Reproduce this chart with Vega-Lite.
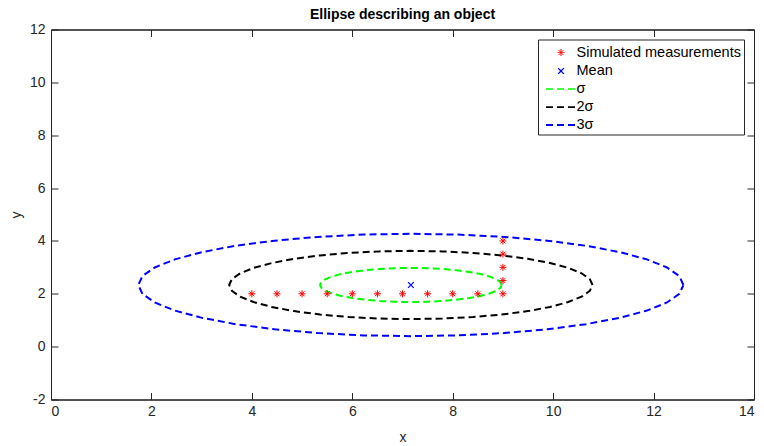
{
  "$schema": "https://vega.github.io/schema/vega-lite/v6.json",
  "width": 703,
  "height": 370,
  "autosize": "none",
  "padding": {"left": 51, "top": 29.5, "right": 10, "bottom": 46.5},
  "background": "white",
  "title": {"text": "Ellipse describing an object", "font": "Liberation Sans", "fontSize": 14, "fontWeight": "bold", "color": "black", "anchor": "middle", "offset": 1},
  "config": {
    "view": {"stroke": "black", "strokeWidth": 1},
    "axis": {"grid": false, "domainColor": "#262626", "tickColor": "#262626", "tickSize": -7, "labelFont": "Liberation Sans", "labelFontSize": 14, "labelColor": "#262626", "titleFont": "Liberation Sans", "titleFontSize": 14, "titleFontWeight": "normal", "titleColor": "#262626", "labelExpr": "replace(datum.label, '−', '-')"}
  },
  "data": {"values": [
    {"s": "Simulated measurements", "x": 4, "y": 2},
    {"s": "Simulated measurements", "x": 4.5, "y": 2},
    {"s": "Simulated measurements", "x": 5, "y": 2},
    {"s": "Simulated measurements", "x": 5.5, "y": 2},
    {"s": "Simulated measurements", "x": 6, "y": 2},
    {"s": "Simulated measurements", "x": 6.5, "y": 2},
    {"s": "Simulated measurements", "x": 7, "y": 2},
    {"s": "Simulated measurements", "x": 7.5, "y": 2},
    {"s": "Simulated measurements", "x": 8, "y": 2},
    {"s": "Simulated measurements", "x": 8.5, "y": 2},
    {"s": "Simulated measurements", "x": 9, "y": 2},
    {"s": "Simulated measurements", "x": 9, "y": 2.5},
    {"s": "Simulated measurements", "x": 9, "y": 3},
    {"s": "Simulated measurements", "x": 9, "y": 3.5},
    {"s": "Simulated measurements", "x": 9, "y": 4},
    {"s": "Mean", "x": 7.1667, "y": 2.3333},
    {"s": "σ", "t": 0, "x": 8.9761, "y": 2.3333},
    {"s": "σ", "t": 1, "x": 8.9486, "y": 2.4454},
    {"s": "σ", "t": 2, "x": 8.8670, "y": 2.5541},
    {"s": "σ", "t": 3, "x": 8.7337, "y": 2.6560},
    {"s": "σ", "t": 4, "x": 8.5528, "y": 2.7482},
    {"s": "σ", "t": 5, "x": 8.3297, "y": 2.8278},
    {"s": "σ", "t": 6, "x": 8.0714, "y": 2.8923},
    {"s": "σ", "t": 7, "x": 7.7855, "y": 2.9399},
    {"s": "σ", "t": 8, "x": 7.4809, "y": 2.9690},
    {"s": "σ", "t": 9, "x": 7.1667, "y": 2.9788},
    {"s": "σ", "t": 10, "x": 6.8525, "y": 2.9690},
    {"s": "σ", "t": 11, "x": 6.5479, "y": 2.9399},
    {"s": "σ", "t": 12, "x": 6.2620, "y": 2.8923},
    {"s": "σ", "t": 13, "x": 6.0037, "y": 2.8278},
    {"s": "σ", "t": 14, "x": 5.7806, "y": 2.7482},
    {"s": "σ", "t": 15, "x": 5.5997, "y": 2.6560},
    {"s": "σ", "t": 16, "x": 5.4664, "y": 2.5541},
    {"s": "σ", "t": 17, "x": 5.3848, "y": 2.4454},
    {"s": "σ", "t": 18, "x": 5.3573, "y": 2.3333},
    {"s": "σ", "t": 19, "x": 5.3848, "y": 2.2212},
    {"s": "σ", "t": 20, "x": 5.4664, "y": 2.1125},
    {"s": "σ", "t": 21, "x": 5.5997, "y": 2.0106},
    {"s": "σ", "t": 22, "x": 5.7806, "y": 1.9184},
    {"s": "σ", "t": 23, "x": 6.0037, "y": 1.8388},
    {"s": "σ", "t": 24, "x": 6.2620, "y": 1.7743},
    {"s": "σ", "t": 25, "x": 6.5479, "y": 1.7267},
    {"s": "σ", "t": 26, "x": 6.8525, "y": 1.6976},
    {"s": "σ", "t": 27, "x": 7.1667, "y": 1.6878},
    {"s": "σ", "t": 28, "x": 7.4809, "y": 1.6976},
    {"s": "σ", "t": 29, "x": 7.7855, "y": 1.7267},
    {"s": "σ", "t": 30, "x": 8.0714, "y": 1.7743},
    {"s": "σ", "t": 31, "x": 8.3297, "y": 1.8388},
    {"s": "σ", "t": 32, "x": 8.5528, "y": 1.9184},
    {"s": "σ", "t": 33, "x": 8.7337, "y": 2.0106},
    {"s": "σ", "t": 34, "x": 8.8670, "y": 2.1125},
    {"s": "σ", "t": 35, "x": 8.9486, "y": 2.2212},
    {"s": "σ", "t": 36, "x": 8.9761, "y": 2.3333},
    {"s": "2σ", "t": 0, "x": 10.7854, "y": 2.3333},
    {"s": "2σ", "t": 1, "x": 10.7305, "y": 2.5575},
    {"s": "2σ", "t": 2, "x": 10.5672, "y": 2.7748},
    {"s": "2σ", "t": 3, "x": 10.3006, "y": 2.9788},
    {"s": "2σ", "t": 4, "x": 9.9388, "y": 3.1631},
    {"s": "2σ", "t": 5, "x": 9.4928, "y": 3.3223},
    {"s": "2σ", "t": 6, "x": 8.9761, "y": 3.4513},
    {"s": "2σ", "t": 7, "x": 8.4044, "y": 3.5464},
    {"s": "2σ", "t": 8, "x": 7.7951, "y": 3.6047},
    {"s": "2σ", "t": 9, "x": 7.1667, "y": 3.6243},
    {"s": "2σ", "t": 10, "x": 6.5383, "y": 3.6047},
    {"s": "2σ", "t": 11, "x": 5.9290, "y": 3.5464},
    {"s": "2σ", "t": 12, "x": 5.3573, "y": 3.4513},
    {"s": "2σ", "t": 13, "x": 4.8406, "y": 3.3223},
    {"s": "2σ", "t": 14, "x": 4.3946, "y": 3.1631},
    {"s": "2σ", "t": 15, "x": 4.0328, "y": 2.9788},
    {"s": "2σ", "t": 16, "x": 3.7662, "y": 2.7748},
    {"s": "2σ", "t": 17, "x": 3.6029, "y": 2.5575},
    {"s": "2σ", "t": 18, "x": 3.5480, "y": 2.3333},
    {"s": "2σ", "t": 19, "x": 3.6029, "y": 2.1091},
    {"s": "2σ", "t": 20, "x": 3.7662, "y": 1.8918},
    {"s": "2σ", "t": 21, "x": 4.0328, "y": 1.6878},
    {"s": "2σ", "t": 22, "x": 4.3946, "y": 1.5035},
    {"s": "2σ", "t": 23, "x": 4.8406, "y": 1.3443},
    {"s": "2σ", "t": 24, "x": 5.3573, "y": 1.2153},
    {"s": "2σ", "t": 25, "x": 5.9290, "y": 1.1202},
    {"s": "2σ", "t": 26, "x": 6.5383, "y": 1.0619},
    {"s": "2σ", "t": 27, "x": 7.1667, "y": 1.0423},
    {"s": "2σ", "t": 28, "x": 7.7951, "y": 1.0619},
    {"s": "2σ", "t": 29, "x": 8.4044, "y": 1.1202},
    {"s": "2σ", "t": 30, "x": 8.9761, "y": 1.2153},
    {"s": "2σ", "t": 31, "x": 9.4928, "y": 1.3443},
    {"s": "2σ", "t": 32, "x": 9.9388, "y": 1.5035},
    {"s": "2σ", "t": 33, "x": 10.3006, "y": 1.6878},
    {"s": "2σ", "t": 34, "x": 10.5672, "y": 1.8918},
    {"s": "2σ", "t": 35, "x": 10.7305, "y": 2.1091},
    {"s": "2σ", "t": 36, "x": 10.7854, "y": 2.3333},
    {"s": "3σ", "t": 0, "x": 12.5948, "y": 2.3333},
    {"s": "3σ", "t": 1, "x": 12.5124, "y": 2.6696},
    {"s": "3σ", "t": 2, "x": 12.2675, "y": 2.9956},
    {"s": "3σ", "t": 3, "x": 11.8676, "y": 3.3015},
    {"s": "3σ", "t": 4, "x": 11.3249, "y": 3.5781},
    {"s": "3σ", "t": 5, "x": 10.6558, "y": 3.8167},
    {"s": "3σ", "t": 6, "x": 9.8808, "y": 4.0103},
    {"s": "3σ", "t": 7, "x": 9.0232, "y": 4.1530},
    {"s": "3σ", "t": 8, "x": 8.1093, "y": 4.2404},
    {"s": "3σ", "t": 9, "x": 7.1667, "y": 4.2698},
    {"s": "3σ", "t": 10, "x": 6.2241, "y": 4.2404},
    {"s": "3σ", "t": 11, "x": 5.3102, "y": 4.1530},
    {"s": "3σ", "t": 12, "x": 4.4526, "y": 4.0103},
    {"s": "3σ", "t": 13, "x": 3.6776, "y": 3.8167},
    {"s": "3σ", "t": 14, "x": 3.0085, "y": 3.5781},
    {"s": "3σ", "t": 15, "x": 2.4658, "y": 3.3015},
    {"s": "3σ", "t": 16, "x": 2.0659, "y": 2.9956},
    {"s": "3σ", "t": 17, "x": 1.8210, "y": 2.6696},
    {"s": "3σ", "t": 18, "x": 1.7386, "y": 2.3333},
    {"s": "3σ", "t": 19, "x": 1.8210, "y": 1.9970},
    {"s": "3σ", "t": 20, "x": 2.0659, "y": 1.6710},
    {"s": "3σ", "t": 21, "x": 2.4658, "y": 1.3651},
    {"s": "3σ", "t": 22, "x": 3.0085, "y": 1.0885},
    {"s": "3σ", "t": 23, "x": 3.6776, "y": 0.8499},
    {"s": "3σ", "t": 24, "x": 4.4526, "y": 0.6563},
    {"s": "3σ", "t": 25, "x": 5.3102, "y": 0.5136},
    {"s": "3σ", "t": 26, "x": 6.2241, "y": 0.4262},
    {"s": "3σ", "t": 27, "x": 7.1667, "y": 0.3968},
    {"s": "3σ", "t": 28, "x": 8.1093, "y": 0.4262},
    {"s": "3σ", "t": 29, "x": 9.0232, "y": 0.5136},
    {"s": "3σ", "t": 30, "x": 9.8808, "y": 0.6563},
    {"s": "3σ", "t": 31, "x": 10.6558, "y": 0.8499},
    {"s": "3σ", "t": 32, "x": 11.3249, "y": 1.0885},
    {"s": "3σ", "t": 33, "x": 11.8676, "y": 1.3651},
    {"s": "3σ", "t": 34, "x": 12.2675, "y": 1.6710},
    {"s": "3σ", "t": 35, "x": 12.5124, "y": 1.9970},
    {"s": "3σ", "t": 36, "x": 12.5948, "y": 2.3333}
  ]},
  "resolve": {"axis": {"x": "independent", "y": "independent"}},
  "layer": [
    {
      "transform": [{"filter": "datum.t != null"}],
      "mark": {"type": "line", "strokeWidth": 2},
      "encoding": {
        "x": {"field": "x", "type": "quantitative", "scale": {"domain": [0, 14], "nice": false, "zero": false}, "axis": {"orient": "bottom", "values": [0, 2, 4, 6, 8, 10, 12, 14], "title": "x", "labelPadding": 12, "titlePadding": 12}},
        "y": {"field": "y", "type": "quantitative", "scale": {"domain": [-2, 12], "nice": false, "zero": false}, "axis": {"orient": "left", "values": [-2, 0, 2, 4, 6, 8, 10, 12], "title": "y", "labelPadding": 13, "titlePadding": 6}},
        "order": {"field": "t", "type": "quantitative"},
        "color": {"field": "s", "type": "nominal", "scale": {"domain": ["Simulated measurements", "Mean", "σ", "2σ", "3σ"], "range": ["#ff0000", "#0000ff", "#00ff00", "#000000", "#0000ff"]}, "legend": {"title": null, "orient": "top-right", "offset": 10, "strokeColor": "#262626", "fillColor": "white", "padding": 3, "labelFont": "Liberation Sans", "labelFontSize": 14.5, "labelLimit": 300, "labelColor": "black", "symbolSize": 361, "symbolOffset": 9.5, "labelOffset": 5, "rowPadding": 1, "symbolFillColor": "transparent"}},
        "strokeDash": {"field": "s", "type": "nominal", "scale": {"domain": ["Simulated measurements", "Mean", "σ", "2σ", "3σ"], "range": [[1, 0], [1, 0], [7, 4], [7, 4], [7, 4]]}},
        "strokeWidth": {"field": "s", "type": "nominal", "scale": {"domain": ["Simulated measurements", "Mean", "σ", "2σ", "3σ"], "range": [1, 2, 2, 2, 2]}}
      }
    },
    {
      "transform": [{"filter": "datum.t == null"}],
      "mark": {"type": "point", "filled": false, "size": 361, "opacity": 1},
      "encoding": {
        "x": {"field": "x", "type": "quantitative", "scale": {"domain": [0, 14], "nice": false, "zero": false}, "axis": {"orient": "top", "values": [0, 2, 4, 6, 8, 10, 12, 14], "labels": false, "title": null}},
        "y": {"field": "y", "type": "quantitative", "scale": {"domain": [-2, 12], "nice": false, "zero": false}, "axis": {"orient": "right", "values": [-2, 0, 2, 4, 6, 8, 10, 12], "labels": false, "title": null}},
        "color": {"field": "s", "type": "nominal", "scale": {"domain": ["Simulated measurements", "Mean", "σ", "2σ", "3σ"], "range": ["#ff0000", "#0000ff", "#00ff00", "#000000", "#0000ff"]}},
        "shape": {"field": "s", "type": "nominal", "scale": {"domain": ["Simulated measurements", "Mean", "σ", "2σ", "3σ"], "range": ["M-0.37,0L0.37,0M0,-0.37L0,0.37M-0.26,-0.26L0.26,0.26M-0.26,0.26L0.26,-0.26", "M-0.3,-0.3L0.3,0.3M-0.3,0.3L0.3,-0.3", "M-1.58,0L1.58,0", "M-1.58,0L1.58,0", "M-1.58,0L1.58,0"]}},
        "strokeWidth": {"field": "s", "type": "nominal", "scale": {"domain": ["Simulated measurements", "Mean", "σ", "2σ", "3σ"], "range": [1, 2, 2, 2, 2]}}
      }
    }
  ]
}
